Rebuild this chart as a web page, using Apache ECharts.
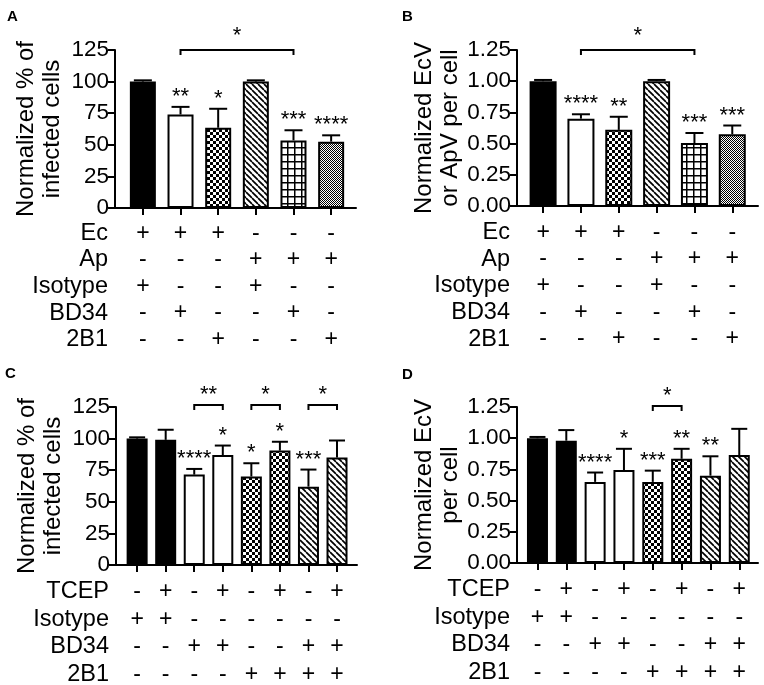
<!DOCTYPE html>
<html>
<head>
<meta charset="utf-8">
<script src="https://cdn.jsdelivr.net/npm/echarts@6/dist/echarts.min.js"></script>
<style>
  html, body { margin: 0; background: #fff; }
  #chart { width: 764px; height: 685px; }
</style>
</head>
<body>
<div id="chart"></div>
<script>
// treatment table rows
const rowNamesAB = ['Ec', 'Ap', 'Isotype', 'BD34', '2B1'];
const tableAB = [
  ['+', '+', '+', '-', '-', '-'],
  ['-', '-', '-', '+', '+', '+'],
  ['+', '-', '-', '+', '-', '-'],
  ['-', '+', '-', '-', '+', '-'],
  ['-', '-', '+', '-', '-', '+']
];
const rowNamesCD = ['TCEP', 'Isotype', 'BD34', '2B1'];
const tableCD = [
  ['-', '+', '-', '+', '-', '+', '-', '+'],
  ['+', '+', '-', '-', '-', '-', '-', '-'],
  ['-', '-', '+', '+', '-', '-', '+', '+'],
  ['-', '-', '-', '-', '+', '+', '+', '+']
];
const fillsAB = ['solid', 'open', 'checker', 'stripe', 'grid', 'dots'];
const fillsCD = ['solid', 'solid', 'open', 'open', 'checker', 'checker', 'stripe', 'stripe'];

// A: normalized % of infected cells
const meanA = [100, 74, 63.5, 100, 53.5, 52.5];
const errA = [101, 80, 78.5, 101, 61.5, 57.5];
const starsA = ['', '**', '*', '', '***', '****'];
const bracketsA = [[1, 4, 125, '*']];

// B: normalized EcV or ApV per cell
const meanB = [1.00, 0.70, 0.61, 1.00, 0.505, 0.575];
const errB = [1.01, 0.735, 0.715, 1.01, 0.585, 0.645];
const starsB = ['', '****', '**', '', '***', '***'];
const bracketsB = [[1, 4, 1.25, '*']];

// C: normalized % of infected cells, +/- TCEP
const meanC = [100, 99, 71.5, 87, 70, 90.5, 62, 85];
const errC = [101, 107, 76, 94.5, 80.5, 97.5, 75.5, 98.5];
const starsC = ['', '', '****', '*', '*', '*', '***', ''];
const bracketsC = [[2, 3, 126.5, '**'], [4, 5, 126.5, '*'], [6, 7, 126.5, '*']];

// D: normalized EcV per cell, +/- TCEP
const meanD = [1.00, 0.98, 0.65, 0.745, 0.65, 0.835, 0.70, 0.865];
const errD = [1.01, 1.065, 0.725, 0.915, 0.74, 0.915, 0.855, 1.075];
const starsD = ['', '', '****', '*', '***', '**', '**', ''];
const bracketsD = [[4, 5, 1.258, '*']];

const FONT = '"Liberation Sans", Arial, Helvetica, sans-serif';

const makeTile = (size, draw) => {
  const c = document.createElement('canvas');
  c.width = c.height = size;
  const ctx = c.getContext('2d');
  ctx.fillStyle = '#fff';
  ctx.fillRect(0, 0, size, size);
  ctx.fillStyle = '#000';
  ctx.strokeStyle = '#000';
  draw(ctx, size);
  return { image: c, repeat: 'repeat' };
};

const fillStyles = {
  solid: '#000',
  open: '#fff',
  checker: makeTile(6, (ctx) => { ctx.fillRect(0, 0, 3, 3); ctx.fillRect(3, 3, 3, 3); }),
  stripe: makeTile(6, (ctx, s) => {
    ctx.lineWidth = 1.7;
    [-s, 0, s].forEach((x0) => {
      ctx.beginPath();
      ctx.moveTo(x0, 0);
      ctx.lineTo(x0 + s, s);
      ctx.stroke();
    });
  }),
  grid: makeTile(7, (ctx) => { ctx.fillRect(0, 0, 7, 1.5); ctx.fillRect(0, 0, 1.5, 7); }),
  dots: makeTile(2, (ctx) => { ctx.fillRect(0, 0, 1, 1); ctx.fillRect(1, 1, 1, 1); })
};

const panels = [
  { letter: 'A', lx: 7, ly: 9, left: 115, top: 50, height: 158, mean: meanA, err: errA, stars: starsA,
    brackets: bracketsA, fills: fillsAB, rows: rowNamesAB, table: tableAB,
    yName: 'Normalized % of\ninfected cells', yMax: 125, yStep: 25, decimals: 0,
    barWidth: 26, capHalf: 9, xMin: -0.74, xMax: 5.66, rowGap: 26.6, labelMargin: 12, bracketText: 14 },
  { letter: 'B', lx: 402, ly: 9, left: 517, top: 50, height: 156, mean: meanB, err: errB, stars: starsB,
    brackets: bracketsB, fills: fillsAB, rows: rowNamesAB, table: tableAB,
    yName: 'Normalized EcV\nor ApV per cell', yMax: 1.25, yStep: 0.25, decimals: 2,
    barWidth: 27, capHalf: 9, xMin: -0.69, xMax: 5.68, rowGap: 26.7, labelMargin: 13, bracketText: 14 },
  { letter: 'C', lx: 5, ly: 366, left: 116, top: 407, height: 158, mean: meanC, err: errC, stars: starsC,
    brackets: bracketsC, fills: fillsCD, rows: rowNamesCD, table: tableCD,
    yName: 'Normalized % of\ninfected cells', yMax: 125, yStep: 25, decimals: 0,
    barWidth: 21, capHalf: 8, xMin: -0.74, xMax: 7.7, rowGap: 27.6, labelMargin: 13, bracketText: 10 },
  { letter: 'D', lx: 402, ly: 367, left: 517, top: 407, height: 156, mean: meanD, err: errD, stars: starsD,
    brackets: bracketsD, fills: fillsCD, rows: rowNamesCD, table: tableCD,
    yName: 'Normalized EcV\nper cell', yMax: 1.25, yStep: 0.25, decimals: 2,
    barWidth: 21, capHalf: 8, xMin: -0.71, xMax: 7.65, rowGap: 27.6, labelMargin: 13, bracketText: 10 }
];

const blackLine = { color: '#000', width: 2 };

const option = {
  animation: false,
  backgroundColor: '#fff',
  grid: panels.map((p) => ({
    left: p.left, top: p.top, width: 241, height: p.height, outerBoundsMode: 'none'
  })),
  xAxis: panels.map((p, i) => {
    const idx = p.mean.map((_, j) => j);
    return {
      gridIndex: i, type: 'value', min: p.xMin, max: p.xMax,
      axisLine: { show: true, onZero: false, lineStyle: blackLine },
      axisTick: { show: true, length: 7, customValues: idx, lineStyle: blackLine },
      axisLabel: {
        customValues: idx, color: '#000', fontSize: 23, fontFamily: FONT,
        lineHeight: p.rowGap, margin: p.labelMargin,
        formatter: (v) => p.table.map((r) => r[Math.round(v)]).join('\n')
      },
      splitLine: { show: false }
    };
  }),
  yAxis: panels.map((p, i) => ({
    gridIndex: i, type: 'value', min: 0, max: p.yMax, interval: p.yStep,
    axisLine: { show: true, onZero: false, lineStyle: blackLine },
    axisTick: { show: true, length: 7, lineStyle: blackLine },
    axisLabel: { color: '#000', fontSize: 22.5, fontFamily: FONT, margin: 6,
      formatter: (v) => v.toFixed(p.decimals) },
    splitLine: { show: false },
    name: p.yName, nameLocation: 'middle', nameRotate: 90, nameGap: 50,
    nameTextStyle: { color: '#000', fontSize: 24, fontFamily: FONT, lineHeight: 26 }
  })),
  series: panels.flatMap((p, i) => [
    {
      type: 'bar', xAxisIndex: i, yAxisIndex: i, barWidth: p.barWidth,
      data: p.mean.map((m, j) => ({
        value: [j, m],
        itemStyle: { color: fillStyles[p.fills[j]], borderColor: '#000', borderWidth: 2 }
      })),
      emphasis: { disabled: true }
    },
    {
      type: 'custom', xAxisIndex: i, yAxisIndex: i, clip: false, z: 3,
      data: p.mean.map((m, j) => [j, m, p.err[j]]),
      renderItem: (params, api) => {
        const base = api.coord([api.value(0), api.value(1)]);
        const top = api.coord([api.value(0), api.value(2)]);
        const star = p.stars[params.dataIndex];
        const children = [
          { type: 'line', shape: { x1: base[0], y1: base[1], x2: top[0], y2: top[1] },
            style: { stroke: '#000', lineWidth: 2 } },
          { type: 'line', shape: { x1: top[0] - p.capHalf, y1: top[1], x2: top[0] + p.capHalf, y2: top[1] },
            style: { stroke: '#000', lineWidth: 2 } }
        ];
        if (star) {
          children.push({ type: 'text', x: top[0], y: top[1] - 10,
            style: { text: star, font: '22px ' + FONT, align: 'center', verticalAlign: 'middle', fill: '#000' } });
        }
        return { type: 'group', children };
      }
    },
    {
      type: 'custom', xAxisIndex: i, yAxisIndex: i, clip: false, z: 3,
      data: p.brackets.map((b) => [b[0], b[1], b[2]]),
      renderItem: (params, api) => {
        const a = api.coord([api.value(0), api.value(2)]);
        const b = api.coord([api.value(1), api.value(2)]);
        return { type: 'group', children: [
          { type: 'polyline',
            shape: { points: [[a[0], a[1] + 5], [a[0], a[1]], [b[0], b[1]], [b[0], b[1] + 5]] },
            style: { stroke: '#000', lineWidth: 2, fill: null } },
          { type: 'text', x: (a[0] + b[0]) / 2, y: a[1] - p.bracketText,
            style: { text: p.brackets[params.dataIndex][3], font: '22px ' + FONT,
              align: 'center', verticalAlign: 'middle', fill: '#000' } }
        ] };
      }
    }
  ]),
  graphic: panels.flatMap((p) => [
    { type: 'text', x: p.lx, y: p.ly,
      style: { text: p.letter, font: 'bold 15px ' + FONT, align: 'left', verticalAlign: 'top', fill: '#000' } },
    { type: 'text', x: p.left - 7, y: p.top + p.height + p.labelMargin,
      style: { text: p.rows.join('\n'), font: '23.5px ' + FONT, lineHeight: p.rowGap,
        align: 'right', verticalAlign: 'top', fill: '#000' } }
  ])
};

const chart = echarts.init(document.getElementById('chart'));
chart.setOption(option);
</script>
</body>
</html>
